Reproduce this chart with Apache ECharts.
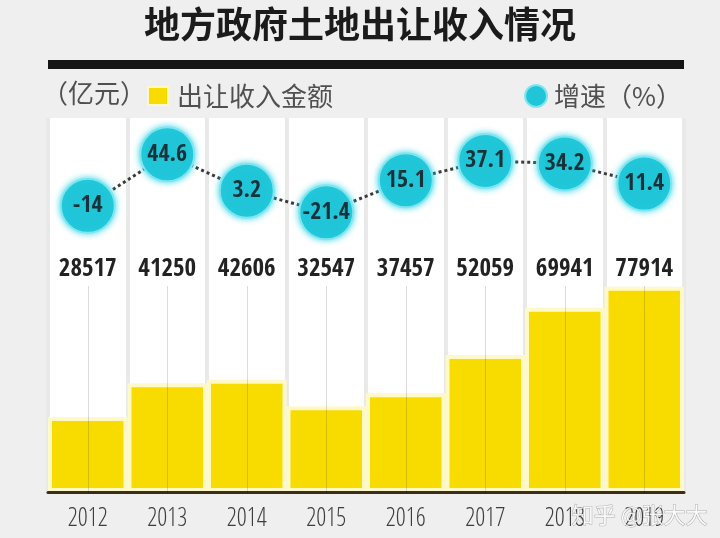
<!DOCTYPE html>
<html><head><meta charset="utf-8">
<script src="https://cdn.jsdelivr.net/npm/echarts@6/dist/echarts.min.js"></script>
<style>html,body{margin:0;padding:0;background:#efefef;}#c{width:720px;height:538px;}</style>
</head><body><div id="c"></div>
<script>
const years = ['2012','2013','2014','2015','2016','2017','2018','2019'];
const amounts = [28517, 41250, 42606, 32547, 37457, 52059, 69941, 77914];
const growth = [-14, 44.6, 3.2, -21.4, 15.1, 37.1, 34.2, 11.4];
const amountName = '出让收入金额';
const growthName = '增速（%）';
const unitText = '（亿元）';
const titleText = '地方政府土地出让收入情况';

const NARROW = '"Open Sans Condensed","Roboto Condensed",sans-serif';
const NARROW_LIGHT = '"Open Sans Condensed Light","Open Sans Condensed","Roboto Condensed",sans-serif';
const CJK = '"Noto Sans CJK SC","Noto Sans",sans-serif';

const chart = echarts.init(document.getElementById('c'));
chart.setOption({
  backgroundColor: '#efefef',
  animation: false,
  title: {text: titleText, left: 'center', top: 1,
    textStyle: {fontFamily: CJK, fontSize: 36, fontWeight: 'bold', color: '#1b1b1b'}},
  legend: [
    {data: [{name: amountName, icon: 'rect'}], left: 142, top: 78, itemWidth: 20, itemHeight: 18, itemGap: 6,
     textStyle: {fontFamily: CJK, fontSize: 26, color: '#505050', padding: [0, 0, 0, 4]}},
    {data: [{name: growthName, icon: 'circle'}], right: 33, top: 78, itemWidth: 22, itemHeight: 22,
     textStyle: {fontFamily: CJK, fontSize: 26, color: '#505050', padding: [0, 0, 0, 2]}}
  ],
  graphic: [
    {type: 'rect', shape: {x: 48, y: 60, width: 636, height: 9}, style: {fill: '#151515'}},
    {type: 'text', left: 42, top: 80, style: {text: unitText, font: '26px ' + CJK, fill: '#505050'}},
    {type: 'text', right: 12, top: 503, z: 100, style: {text: '知乎 @张大大', font: '22px ' + CJK,
      fill: 'rgba(255,255,255,0.85)', stroke: 'rgba(60,60,60,0.35)', lineWidth: 1}}
  ],
  grid: {left: 48, right: 36, top: 118, bottom: 46, show: true, backgroundColor: '#ffffff', borderWidth: 0},
  xAxis: [
    {type: 'category', data: years, position: 'bottom', z: 10,
     axisLine: {show: true, lineStyle: {color: '#3a2e16', width: 3}},
     axisTick: {show: false}, splitLine: {show: false},
     axisLabel: {interval: 0, margin: 15, fontFamily: NARROW_LIGHT, fontWeight: 300, fontSize: 25, color: '#3e3e3e'}},
    {type: 'category', data: years, position: 'top', offset: -168, z: 10,
     axisLine: {show: false},
     axisTick: {show: true, inside: true, alignWithLabel: true, interval: 0, length: 207, lineStyle: {color: 'rgba(0,0,0,0.14)', width: 1}},
     axisLabel: {interval: 0, margin: 4, fontFamily: NARROW, fontSize: 25, fontWeight: 'bold', color: '#222',
       formatter: (v, i) => String(amounts[i])}},
    {type: 'category', data: years, position: 'bottom', z: 0,
     axisLine: {show: false}, axisTick: {show: false}, axisLabel: {show: false},
     splitLine: {show: true, interval: 0, lineStyle: {color: '#e9e9e9', width: 4}}}
  ],
  yAxis: [
    {type: 'value', min: 0, max: 142000, show: false, splitLine: {show: false}},
    {type: 'value', min: -340, max: 86, show: false, splitLine: {show: false}}
  ],
  series: [
    {name: amountName, type: 'bar', xAxisIndex: 0, yAxisIndex: 0, data: amounts,
     barCategoryGap: '0%',
     itemStyle: {color: '#f8dc00', borderColor: '#fff8c8', borderWidth: 4}},
    {name: growthName, type: 'line', xAxisIndex: 0, yAxisIndex: 1, data: growth, z: 5,
     symbol: 'circle', symbolSize: 54,
     lineStyle: {color: '#3a3a3a', width: 3, type: 'dotted'},
     itemStyle: {color: '#20c6d8', borderColor: '#7fe6f0', borderWidth: 2, shadowBlur: 6, shadowColor: 'rgba(40,210,230,0.8)'},
     label: {show: true, position: 'inside', fontFamily: NARROW, fontSize: 24, fontWeight: 'bold', color: '#17323a',
       formatter: p => String(p.value)}}
  ]
});
</script></body></html>
